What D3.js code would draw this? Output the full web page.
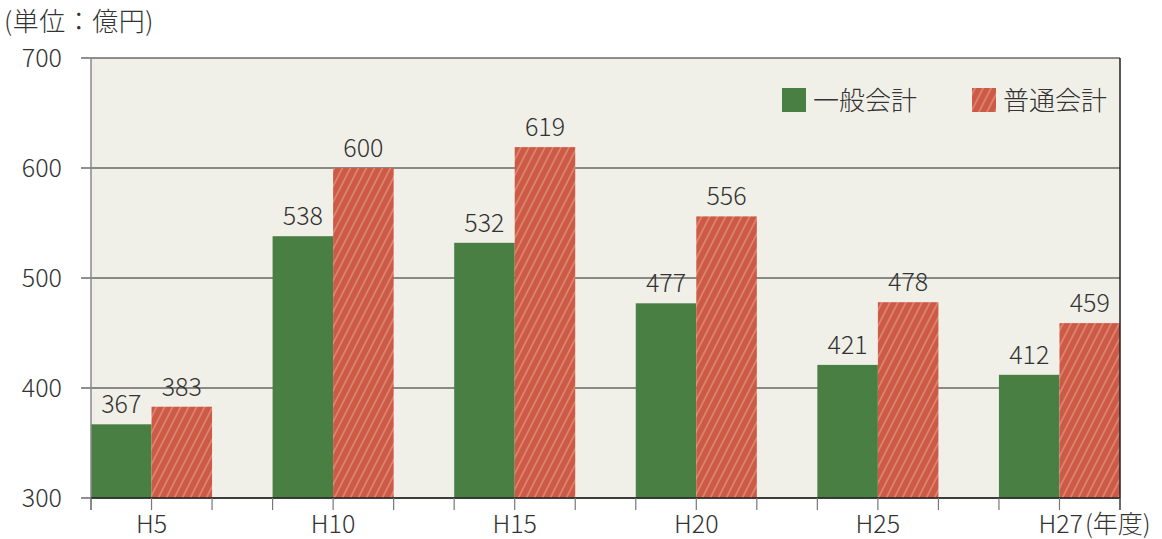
<!DOCTYPE html>
<html>
<head>
<meta charset="utf-8">
<script src="https://cdn.jsdelivr.net/npm/d3@7"></script>
<style>
body { margin: 0; background: #fff; }
text { font-family: "Noto Sans CJK JP", "Noto Sans", sans-serif; fill: #333; font-weight: 300; }
</style>
</head>
<body>
<div id="chart"></div>
<script>
// データ
var years = ["H5", "H10", "H15", "H20", "H25", "H27"];
var ippan = [367, 538, 532, 477, 421, 412];   // 一般会計
var futsu = [383, 600, 619, 556, 478, 459];   // 普通会計
var yTicks = [300, 400, 500, 600, 700];
var seriesNames = ["一般会計", "普通会計"];

var width = 1162, height = 539;
var mLeft = 91, mRight = 1120, mTop = 58, mBottom = 498;

var svg = d3.select("#chart").append("svg")
    .attr("width", width)
    .attr("height", height);

// 斜線パターン
var defs = svg.append("defs");
var pat = defs.append("pattern")
    .attr("id", "hatch")
    .attr("patternUnits", "userSpaceOnUse")
    .attr("width", 8)
    .attr("height", 16)
    .attr("patternTransform", "skewX(-27)");
pat.append("rect").attr("width", 8).attr("height", 16).attr("fill", "#cc5a45");
pat.append("line")
    .attr("x1", 4).attr("y1", 0).attr("x2", 4).attr("y2", 16)
    .attr("stroke", "#eeb4a4").attr("stroke-width", 0.9);

// 背景
svg.append("rect")
    .attr("x", mLeft).attr("y", mTop)
    .attr("width", mRight - mLeft).attr("height", mBottom - mTop)
    .attr("fill", "#f1f0e8");

var y = d3.scaleLinear().domain([300, 700]).range([mBottom, mTop]);

// 17スロット: 緑・赤・空白 ×6 (最後の空白なし)
var slots = d3.range(years.length * 3 - 1);
var x = d3.scaleBand().domain(slots).range([mLeft, mRight]).padding(0);
var bw = x.bandwidth();

// グリッド線
svg.append("g").selectAll("line")
    .data(yTicks)
    .enter().append("line")
    .attr("x1", mLeft - 10).attr("x2", mRight)
    .attr("y1", function (d) { return y(d); })
    .attr("y2", function (d) { return y(d); })
    .attr("stroke", "#222").attr("stroke-width", 1.2);

svg.append("g").selectAll("text")
    .data(yTicks)
    .enter().append("text")
    .attr("x", 62).attr("y", function (d) { return y(d) + 9; })
    .attr("text-anchor", "end")
    .attr("font-size", 25)
    .text(function (d) { return d; });

// 棒
var g = svg.append("g");
years.forEach(function (yr, i) {
    var x0 = x(i * 3), x1 = x(i * 3 + 1);
    g.append("rect")
        .attr("x", x0).attr("y", y(ippan[i]))
        .attr("width", bw).attr("height", mBottom - y(ippan[i]))
        .attr("fill", "#4a7f44");
    g.append("rect")
        .attr("x", x1).attr("y", y(futsu[i]))
        .attr("width", bw).attr("height", mBottom - y(futsu[i]))
        .attr("fill", "url(#hatch)");
    g.append("text")
        .attr("x", x0 + bw / 2).attr("y", y(ippan[i]) - 11)
        .attr("text-anchor", "middle").attr("font-size", 25)
        .text(ippan[i]);
    g.append("text")
        .attr("x", x1 + bw / 2).attr("y", y(futsu[i]) - 11)
        .attr("text-anchor", "middle").attr("font-size", 25)
        .text(futsu[i]);
    // x ラベル
    var last = i === years.length - 1;
    var lab = g.append("text")
        .attr("x", last ? x1 - 21 : x1).attr("y", 533)
        .attr("font-size", 25)
        .attr("text-anchor", last ? "start" : "middle")
        .text(yr);
    if (last) lab.append("tspan").attr("dx", 2).text("(年度)");
});

// 軸
svg.append("line")
    .attr("x1", mLeft).attr("x2", mLeft).attr("y1", mTop).attr("y2", mBottom + 12)
    .attr("stroke", "#888").attr("stroke-width", 1.5);
svg.append("line")
    .attr("x1", mRight).attr("x2", mRight).attr("y1", mTop).attr("y2", mBottom + 12)
    .attr("stroke", "#222").attr("stroke-width", 1.5);
svg.append("line")
    .attr("x1", mLeft).attr("x2", mRight).attr("y1", mBottom).attr("y2", mBottom)
    .attr("stroke", "#222").attr("stroke-width", 1.5);

// x目盛り (棒の端ごと)
var tickXs = [];
years.forEach(function (yr, i) {
    tickXs.push(x(i * 3), x(i * 3 + 1), x(i * 3 + 1) + bw);
});
svg.append("g").selectAll("line")
    .data(tickXs)
    .enter().append("line")
    .attr("x1", function (d) { return d; }).attr("x2", function (d) { return d; })
    .attr("y1", mBottom).attr("y2", mBottom + 12)
    .attr("stroke", "#777").attr("stroke-width", 1.2);

// 単位
svg.append("text")
    .attr("x", 4).attr("y", 31)
    .attr("font-size", 26)
    .attr("letter-spacing", 0.5)
    .text("(単位：億円)");

// 凡例
var legend = svg.append("g");
var legX = [782, 972];
var legFill = ["#4a7f44", "url(#hatch)"];
seriesNames.forEach(function (n, i) {
    legend.append("rect")
        .attr("x", legX[i]).attr("y", 88)
        .attr("width", 24).attr("height", 24)
        .attr("fill", legFill[i]);
    legend.append("text")
        .attr("x", legX[i] + 31).attr("y", 110)
        .attr("font-size", 26)
        .text(n);
});
</script>
</body>
</html>
